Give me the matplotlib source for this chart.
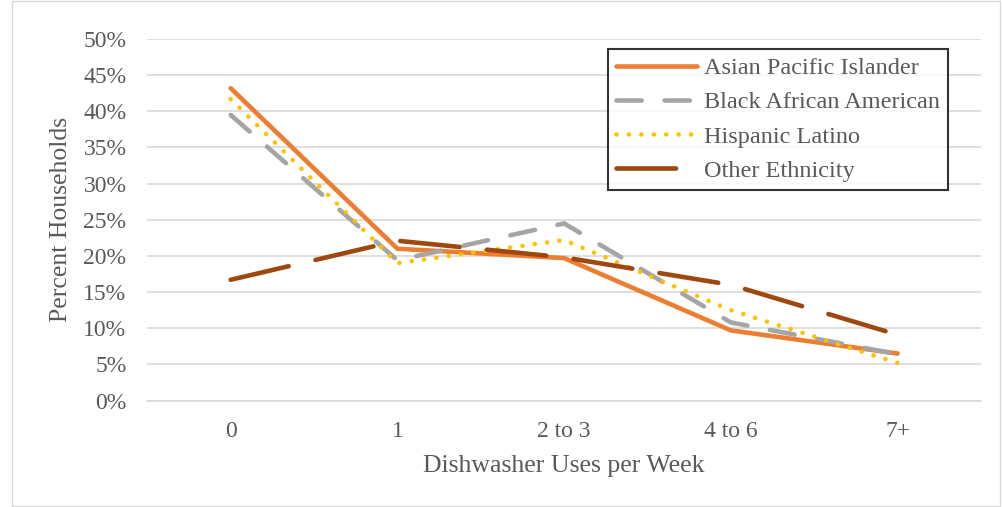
import matplotlib.pyplot as plt

categories = ["0", "1", "2 to 3", "4 to 6", "7+"]
asian = [43.2, 21.0, 19.7, 9.7, 6.5]
black = [39.5, 19.4, 24.5, 10.8, 6.4]
hispanic = [41.7, 19.0, 22.2, 12.5, 5.2]
other = [16.7, 22.1, 19.8, 16.0, 9.1]
yticks = list(range(0, 51, 5))

plt.rcParams['font.family'] = ['Liberation Serif', 'DejaVu Serif']

fig = plt.figure(figsize=(10.02, 5.07), dpi=100)
ax = fig.add_axes([0.147, 0.21, 0.832, 0.713])

x = list(range(len(categories)))
lw = 3.3
ax.plot(x, asian, color='#ed7d31', lw=lw, solid_capstyle='round', label='Asian Pacific Islander')
ax.plot(x, black, color='#a5a5a5', lw=lw, dashes=(5.5, 5), dash_capstyle='round',
        label='Black African American')
ax.plot(x, hispanic, color='#ffc000', lw=lw, dashes=(0.01, 2.7), dash_capstyle='round',
        label='Hispanic Latino')
ax.plot(x, other, color='#9e480e', lw=lw, dashes=(13, 6), dash_capstyle='round',
        label='Other Ethnicity')

ax.set_xlim(-0.5, 4.5)
ax.set_ylim(0, 50)
ax.set_yticks(yticks)
ax.set_yticklabels([f"{v}%" for v in yticks])
ax.set_xticks(x)
ax.set_xticklabels(categories)
ax.grid(axis='y', color='#d9d9d9', lw=1.2)
ax.set_axisbelow(True)
for s in ['top', 'right', 'left']:
    ax.spines[s].set_visible(False)
ax.spines['bottom'].set_color('#d9d9d9')
ax.spines['bottom'].set_linewidth(1.2)
ax.tick_params(length=0, labelsize=17, colors='#595959')
ax.tick_params(axis='y', pad=15)
ax.tick_params(axis='x', pad=15)
ax.set_ylabel('Percent Households', fontsize=18.5, color='#595959', labelpad=8)
ax.set_xlabel('Dishwasher Uses per Week', fontsize=18.5, color='#595959', labelpad=9)

leg = ax.legend(loc='upper right', bbox_to_anchor=(0.961, 0.973), fontsize=17.5,
                frameon=True, fancybox=False, edgecolor='black', handlelength=3.3,
                handletextpad=0.3, labelcolor='#595959', borderpad=0.35,
                labelspacing=0.5, borderaxespad=0)
leg.get_frame().set_linewidth(1.5)

fig.patches.append(plt.Rectangle((0.012, 0.002), 0.986, 0.996, transform=fig.transFigure,
                                 fill=False, edgecolor='#d9d9d9', lw=1))

fig.savefig('out.png', dpi=100)
